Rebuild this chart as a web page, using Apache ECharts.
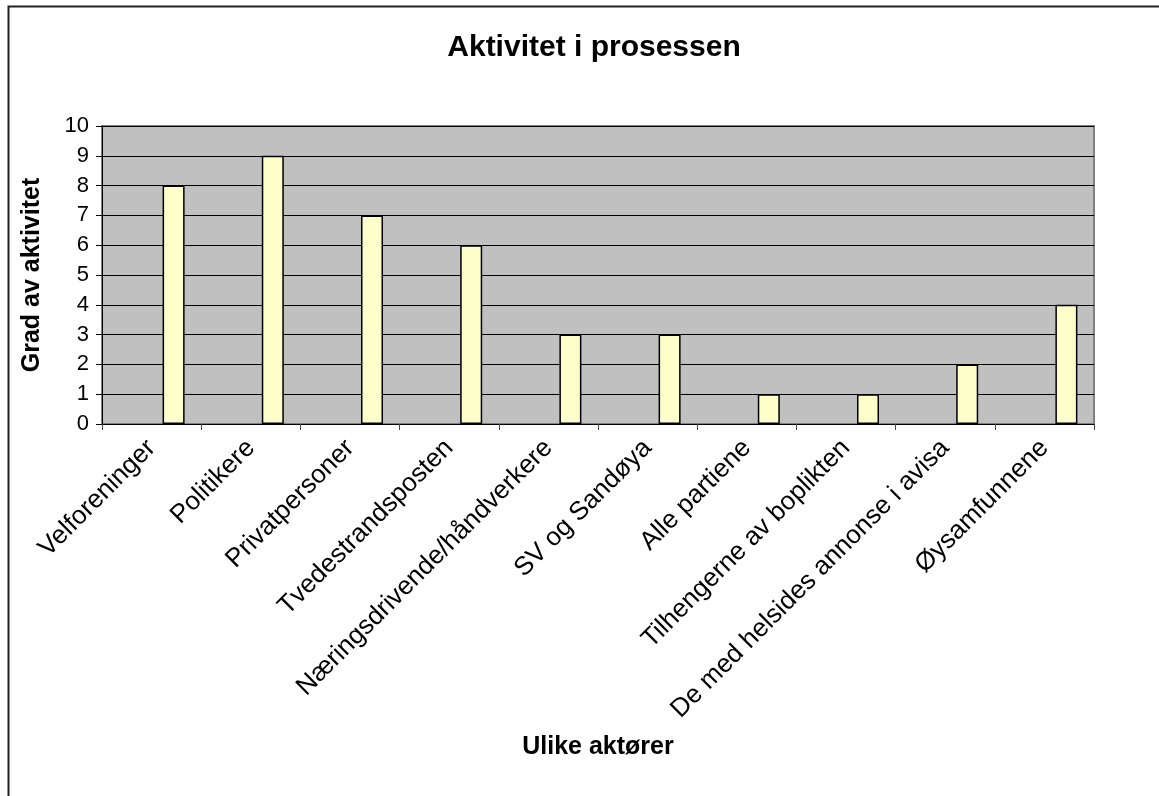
<!DOCTYPE html>
<html>
<head>
<meta charset="utf-8">
<script src="https://cdn.jsdelivr.net/npm/echarts@6/dist/echarts.min.js"></script>
<style>
  html, body { margin: 0; padding: 0; background: #fff; }
  #chart { width: 1159px; height: 796px; }
</style>
</head>
<body>
<div id="chart"></div>
<script>
// Categories and activity levels
const categories = [
  'Velforeninger', 'Politikere', 'Privatpersoner', 'Tvedestrandsposten',
  'Næringsdrivende/håndverkere', 'SV og Sandøya', 'Alle partiene',
  'Tilhengerne av boplikten', 'De med helsides annonse i avisa', 'Øysamfunnene'
];
const activity = [8, 9, 7, 6, 3, 3, 1, 1, 2, 4];
const yTicks = [0, 1, 2, 3, 4, 5, 6, 7, 8, 9, 10];

// Two empty series occupy the first two slots of each category group
const emptySlot = [];

const font = 'Liberation Sans, Arial, sans-serif';
const chart = echarts.init(document.getElementById('chart'), null, { renderer: 'canvas' });

chart.setOption({
  animation: false,
  title: {
    text: 'Aktivitet i prosessen',
    left: 589, top: 28, textAlign: 'center',
    textStyle: { fontFamily: font, fontSize: 30, fontWeight: 'bold', color: '#000' }
  },
  graphic: [{
    type: 'rect',
    shape: { x: 8.5, y: 6.5, width: 1300, height: 1000 },
    style: { fill: 'none', stroke: '#222', lineWidth: 2 },
    silent: true
  }],
  grid: {
    left: 102, top: 126, right: 65, bottom: 372,
    show: true, backgroundColor: '#C0C0C0', borderColor: '#808080', borderWidth: 2
  },
  xAxis: {
    type: 'category',
    data: categories,
    name: 'Ulike aktører',
    nameLocation: 'middle',
    nameGap: 311,
    nameTextStyle: { fontFamily: font, fontSize: 25, fontWeight: 'bold', color: '#000' },
    axisLine: { lineStyle: { color: '#000', width: 1 } },
    axisTick: { show: true, alignWithLabel: false, length: 6, lineStyle: { color: '#444' } },
    axisLabel: {
      rotate: 45, interval: 0, margin: 20,
      fontFamily: font, fontSize: 26, color: '#000'
    },
    splitLine: { show: false }
  },
  yAxis: {
    type: 'value',
    min: yTicks[0], max: yTicks[yTicks.length - 1], interval: 1,
    name: 'Grad av aktivitet',
    nameLocation: 'middle',
    nameGap: 57,
    nameTextStyle: { fontFamily: font, fontSize: 25, fontWeight: 'bold', color: '#000' },
    axisLine: { show: true, lineStyle: { color: '#000', width: 1 } },
    axisTick: { show: true, length: 6, lineStyle: { color: '#000' } },
    axisLabel: { margin: 13, fontFamily: font, fontSize: 22, color: '#000' },
    splitLine: { show: true, lineStyle: { color: '#000', width: 1 } }
  },
  series: [
    { type: 'bar', data: emptySlot, barWidth: 22, barGap: '0%' },
    { type: 'bar', data: emptySlot, barWidth: 22, barGap: '0%' },
    {
      type: 'bar', data: activity, barWidth: 22, barGap: '0%',
      itemStyle: { color: '#FFFFCC', borderColor: '#000', borderWidth: 1.5 }
    }
  ]
});
</script>
</body>
</html>
